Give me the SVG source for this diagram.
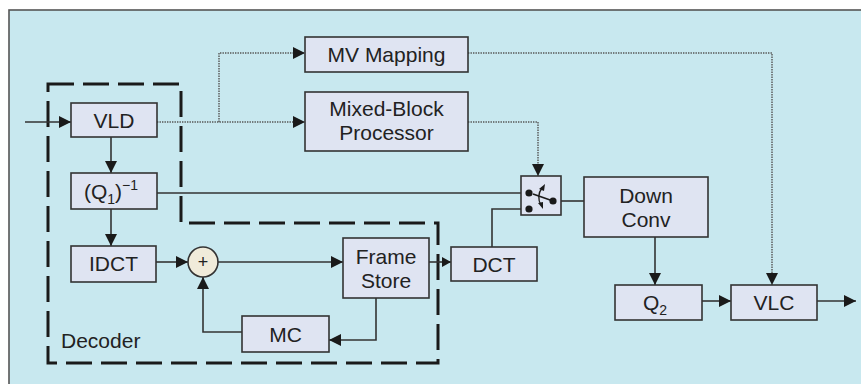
<svg xmlns="http://www.w3.org/2000/svg" width="861" height="384" viewBox="0 0 861 384">
<defs>
<marker id="arr" markerUnits="userSpaceOnUse" markerWidth="12" markerHeight="12" refX="12" refY="6" orient="auto" viewBox="0 0 12 12">
<path d="M0,0 L12,6 L0,12 z" fill="#1a1a1a"/>
</marker>
<marker id="arrs" markerUnits="userSpaceOnUse" markerWidth="9" markerHeight="10" refX="9" refY="5" orient="auto" viewBox="0 0 9 10">
<path d="M0,0 L9,5 L0,10 z" fill="#1a1a1a"/>
</marker>
<style>
.box{fill:#dfe4f2;stroke:#333;stroke-width:1.6}
.t{font-family:"Liberation Sans",Arial,sans-serif;font-size:21px;fill:#222;text-anchor:middle}
.ts{font-family:"Liberation Sans",Arial,sans-serif;font-size:21px;fill:#222}
.c{fill:none;stroke:#333;stroke-width:1.6}
.d{fill:none;stroke:#555;stroke-width:1.4;stroke-dasharray:1.4 1.1}
.dash{fill:none;stroke:#1a1a1a;stroke-width:3;stroke-dasharray:26 9}
.dot{fill:#1a1a1a}
</style>
</defs>
<rect x="0" y="0" width="861" height="384" fill="#ffffff"/>
<rect x="9" y="10" width="860" height="380" fill="#c8e8ef" stroke="#555" stroke-width="1.6"/>

<g id="decoder-boundary">
<path class="dash" d="M48,84 H181 V223 H438 V363 H48 Z"/>
<text class="ts" x="61" y="348">Decoder</text>
</g>

<g id="connectors">
<line class="c" x1="25" y1="122" x2="71" y2="122" marker-end="url(#arr)"/>
<line class="c" x1="111" y1="137" x2="111" y2="173" marker-end="url(#arr)"/>
<line class="c" x1="111" y1="209" x2="111" y2="246" marker-end="url(#arr)"/>
<line class="c" x1="156" y1="262" x2="188" y2="262" marker-end="url(#arr)"/>
<line class="c" x1="218" y1="262" x2="343" y2="262" marker-end="url(#arr)"/>
<line class="c" x1="429" y1="262" x2="451" y2="262" marker-end="url(#arrs)"/>
<polyline class="c" points="376,298 376,340 329,340" marker-end="url(#arr)"/>
<polyline class="c" points="242,332 203,332 203,277" marker-end="url(#arr)"/>
<line class="c" x1="157" y1="193" x2="521" y2="193"/>
<polyline class="c" points="492,247 492,209 521,209"/>
<line class="c" x1="561" y1="201" x2="584" y2="201"/>
<line class="c" x1="655" y1="237" x2="655" y2="285" marker-end="url(#arr)"/>
<line class="c" x1="702" y1="301" x2="731" y2="301" marker-end="url(#arr)"/>
<line class="c" x1="817" y1="301" x2="856" y2="301" marker-end="url(#arr)"/>
<line class="d" x1="157" y1="122" x2="305" y2="122" marker-end="url(#arr)"/>
<polyline class="d" points="219,122 219,53 305,53" marker-end="url(#arr)"/>
<polyline class="d" points="468,53 772,53 772,285" marker-end="url(#arr)"/>
<polyline class="d" points="468,122 538,122 538,176" marker-end="url(#arr)"/>
</g>

<g id="vld"><rect class="box" x="71" y="103" width="86" height="34"/><text class="t" x="114" y="128">VLD</text></g>
<g id="q1inv"><rect class="box" x="71" y="173" width="86" height="36"/><text class="t" x="111" y="199">(Q<tspan font-size="14" dy="5">1</tspan><tspan dy="-5">)</tspan><tspan font-size="14" dy="-9">−1</tspan></text></g>
<g id="idct"><rect class="box" x="71" y="246" width="85" height="36"/><text class="t" x="113.5" y="271">IDCT</text></g>
<g id="adder"><circle cx="203" cy="262" r="15" fill="#f0ebda" stroke="#333" stroke-width="1.6"/><text x="203" y="268" font-family="Liberation Sans,Arial,sans-serif" font-size="18" fill="#222" text-anchor="middle">+</text></g>
<g id="mc"><rect class="box" x="242" y="316" width="87" height="36"/><text class="t" x="285.5" y="342">MC</text></g>
<g id="framestore"><rect class="box" x="343" y="238" width="86" height="60"/><text class="t" x="386" y="264">Frame</text><text class="t" x="386" y="288">Store</text></g>
<g id="dct"><rect class="box" x="451" y="247" width="86" height="34"/><text class="t" x="494" y="272">DCT</text></g>
<g id="mvmapping"><rect class="box" x="305" y="37" width="163" height="35"/><text class="t" x="386.5" y="62">MV Mapping</text></g>
<g id="mixedblock"><rect class="box" x="305" y="92" width="163" height="59"/><text class="t" x="386.5" y="116">Mixed-Block</text><text class="t" x="386.5" y="140">Processor</text></g>
<g id="switch">
<rect class="box" x="521" y="176" width="40" height="39"/>
<circle class="dot" cx="529" cy="193" r="3.6"/>
<circle class="dot" cx="529" cy="209" r="3.6"/>
<circle class="dot" cx="553" cy="201" r="3.6"/>
<line x1="553" y1="201" x2="533" y2="194" stroke="#1a1a1a" stroke-width="1.6"/>
<path d="M542,188 Q536,196 541,205" fill="none" stroke="#1a1a1a" stroke-width="1.3"/>
<path d="M545,184 L544,191 L539,189 z" fill="#1a1a1a"/>
<path d="M543,209 L538,203 L543,202 z" fill="#1a1a1a"/>
</g>
<g id="downconv"><rect class="box" x="584" y="177" width="124" height="60"/><text class="t" x="646" y="203">Down</text><text class="t" x="646" y="227">Conv</text></g>
<g id="q2"><rect class="box" x="615" y="285" width="87" height="35"/><text class="t" x="655" y="310">Q<tspan font-size="14" dy="5">2</tspan></text></g>
<g id="vlc"><rect class="box" x="731" y="285" width="86" height="35"/><text class="t" x="774" y="310">VLC</text></g>
</svg>
